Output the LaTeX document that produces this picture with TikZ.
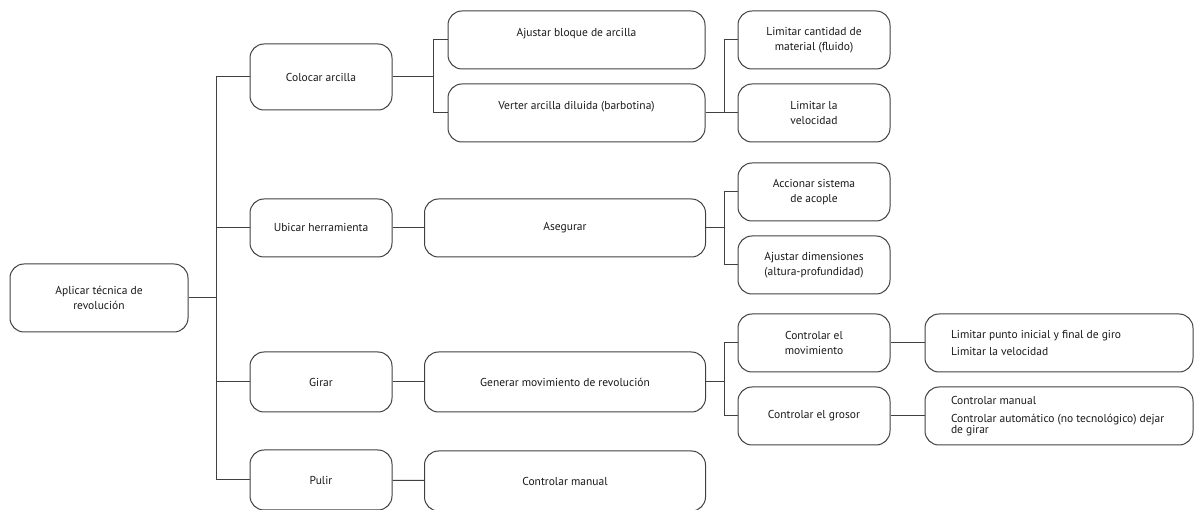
\documentclass[tikz,border=0pt]{standalone}
\usepackage{fontspec}
\setmainfont{PT Sans}
\usepackage{tikz}
\usetikzlibrary{positioning}

\tikzset{
  box/.style={draw=black!75, line width=1pt, rounded corners=14pt, align=center,
    minimum height=58pt, inner sep=2pt, font=\fontsize{11.5}{14.5}\selectfont, text=black!90},
  lone/.style={box, minimum width=142pt},
  ltwo/.style={box, minimum width=257pt},
  lthree/.style={box, minimum width=281pt},
  lfour/.style={box, minimum width=152pt},
  lfive/.style={box, minimum width=268pt, text width=240pt, inner xsep=0pt, align=flush left,
    execute at begin node={\leftskip=12pt\relax}},
  link/.style={draw=black!75, line width=1pt}
}

\begin{document}
\begin{tikzpicture}[x=1pt,y=-1pt]
\useasboundingbox (0,0) rectangle (1195,510);

% root
\node[box, minimum width=178pt, minimum height=68pt] (root) at (99,298) {Aplicar técnica de\\revolución};

% first level
\node[lone, minimum height=66pt] (colocar) at (321,77) {Colocar arcilla};
\node[lone] (ubicar) at (321,228) {Ubicar herramienta};
\node[lone, minimum height=60pt] (girar) at (321,382) {Girar};
\node[lone, minimum height=60pt] (pulir) at (321,480) {Pulir};

% second level
\node[ltwo] (ajustar) at (576.5,40) {Ajustar bloque de arcilla\\~};
\node[ltwo] (verter) at (576.5,113) {Verter arcilla diluida (barbotina)\\~};
\node[lthree] (asegurar) at (565,228) {Asegurar};
\node[lthree, minimum height=60pt] (generar) at (565,382) {Generar movimiento de revolución};
\node[lthree, minimum height=60pt] (manual) at (565,481) {Controlar manual};

% third level
\node[lfour] (cantidad) at (814,40) {Limitar cantidad de\\material (fluido)};
\node[lfour] (velocidad) at (814,113) {Limitar la\\velocidad};
\node[lfour] (accionar) at (814,192) {Accionar sistema\\de acople};
\node[lfour] (dimensiones) at (814,265) {Ajustar dimensiones\\(altura-profundidad)};
\node[lfour] (movimiento) at (814,343) {Controlar el\\movimiento};
\node[lfour] (grosor) at (814,416) {Controlar el grosor};

% fourth level
\node[lfive] (giro) at (1059,343) {Limitar punto inicial y final de giro\\[2pt]Limitar la velocidad};
\node[lfive] (auto) at (1059,416) {Controlar manual\\[4pt]Controlar automático (no tecnológico) dejar\\[-4pt]de girar};

% branch points
\coordinate (broot) at (216,298);
\coordinate (bcol) at (433,77);
\coordinate (bver) at (724,113);
\coordinate (bseg) at (724,228);
\coordinate (bgen) at (724,382);

% connectors
\draw[link] (root.east) -- (broot);
\draw[link] (broot) |- (colocar.west);
\draw[link] (broot) |- (ubicar.west);
\draw[link] (broot) |- (girar.west);
\draw[link] (broot) |- (pulir.west);

\draw[link] (colocar.east) -- (bcol);
\draw[link] (bcol) |- (ajustar.west);
\draw[link] (bcol) |- (verter.west);
\draw[link] (ubicar) -- (asegurar);
\draw[link] (girar) -- (generar);
\draw[link] (pulir) -- (manual);

\draw[link] (verter.east) -- (bver);
\draw[link] (bver) |- (cantidad.west);
\draw[link] (bver) -- (velocidad.west);
\draw[link] (asegurar.east) -- (bseg);
\draw[link] (bseg) |- (accionar.west);
\draw[link] (bseg) |- (dimensiones.west);
\draw[link] (generar.east) -- (bgen);
\draw[link] (bgen) |- (movimiento.west);
\draw[link] (bgen) |- (grosor.west);

\draw[link] (movimiento) -- (giro);
\draw[link] (grosor) -- (auto);
\end{tikzpicture}
\end{document}
